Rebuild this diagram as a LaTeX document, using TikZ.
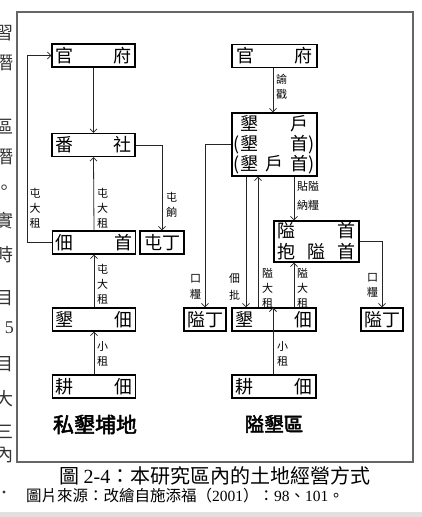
\documentclass[tikz,border=0pt]{standalone}
\usepackage{fontspec}
\setmainfont{Noto Sans CJK TC}
\newfontfamily\tnr{Liberation Serif}
\newfontfamily\cjkbold[FakeBold=2.5]{Noto Sans CJK TC}
\usetikzlibrary{arrows.meta}
\begin{document}
\begin{tikzpicture}[x=1pt,y=-1pt,
  box/.style={draw, line width=1.1pt, inner sep=0pt, minimum height=23pt, font=\fontsize{18}{20}\selectfont},
  wbox/.style={box, minimum width=83pt, text width=77pt},
  conn/.style={line width=0.8pt, draw=black!85},
  arr/.style={conn, -{Straight Barb[length=3.5pt,width=7pt]}},
  lab/.style={font=\fontsize{11}{15}\selectfont, align=center, inner sep=0pt, anchor=west},
  margin/.style={anchor=east, inner sep=0pt, font=\fontsize{18}{18}\selectfont, text=black!80}]
\useasboundingbox (0,0) rectangle (422,517);
% page fragments on the left
\begin{scope}
\clip (0,0) rectangle (15.5,517);
\foreach \ch/\yy in {習/33,潛/63,區/127,潛/157,。/190,實/221,時/255,目/298,{\tnr 5}/328,目/364,大/399,三/432,內/455,．/495}
  \node[margin] (m\yy) at (14,\yy) {\ch};
\end{scope}
% frame and bottom band
\draw[line width=1.3pt, draw=black!60] (17,12) rectangle (413,462);
\fill[black!12] (0,512) rectangle (422,517);
% left column
\node[wbox] (LG) at (93.5,55.5) {官\hfill 府};
\node[wbox] (LF) at (93.5,145) {番\hfill 社};
\node[wbox] (LH) at (94,242.5) {佃\hfill 首};
\node[box, minimum width=44pt] (LT) at (162,242.5) {屯丁};
\node[wbox] (LK) at (94,319.5) {墾\hfill 佃};
\node[wbox] (LC) at (94,386.5) {耕\hfill 佃};
\node[font={\cjkbold\fontsize{21}{21}\selectfont}, inner sep=0pt] (T1) at (95,424.5) {私墾埔地};
% right column
\node[wbox, minimum width=85pt] (RG) at (274.5,56) {官\hfill 府};
\node[box, minimum width=85pt, minimum height=63pt, align=center] (RH) at (274.5,144.5)
  {\hbox to 69pt{墾\hfill 戶}\\\hbox to 69pt{\llap{(}墾\hfill 首\rlap{)}}\\\hbox to 69pt{\llap{(}墾\hfill 戶\hfill 首\rlap{)}}};
\node[box, minimum width=85pt, minimum height=41pt, align=center, font=\fontsize{18}{21}\selectfont] (RA) at (316.5,241.5)
  {\hbox to 78pt{隘\hfill 首}\\\hbox to 78pt{抱\hfill 隘\hfill 首}};
\node[box, minimum width=42pt] (RL) at (205,319.5) {隘丁};
\node[wbox, minimum width=84pt] (RK) at (274,319.5) {墾\hfill 佃};
\node[box, minimum width=42pt] (RR) at (382,319.5) {隘丁};
\node[wbox, minimum width=84pt] (RC) at (274,386.5) {耕\hfill 佃};
\node[font={\cjkbold\fontsize{19.5}{20}\selectfont}, inner sep=0pt] (T2) at (274,424) {隘墾區};
% left connectors
\draw[arr] (LG.south) -- (LF.north);
\draw[arr] (LH.north) -- (LF.south);
\draw[arr] (LK.north) -- (LH.south);
\draw[arr] (LC.north) -- (LK.south);
\draw[arr] (LH.west) -- ++(-25,0) |- (LG.west);
\draw[arr] (LF.east) -| (LT.north);
\node[lab] (l1) at (29.5,208) {屯\\大\\租};
\node[lab] (l2) at (97,208) {屯\\大\\租};
\node[lab] (l3) at (166,205) {屯\\餉};
\node[lab] (l4) at (97,284) {屯\\大\\租};
\node[lab] (l5) at (97,354) {小\\租};
% right connectors
\draw[arr] ([xshift=-1.5pt]RG.south) -- ([xshift=-1.5pt]RH.north);
\draw[arr] (RH.west) -| (RL.north);
\draw[arr] ([xshift=-28.5pt]RH.south) -- ([xshift=-28pt]RK.north);
\draw[arr] ([xshift=-16pt]RK.north) -- ([xshift=-16.5pt]RH.south);
\draw[arr] ([xshift=19.5pt]RH.south) -- ([xshift=19.5pt]RH.south |- RA.north);
\draw[arr] ([xshift=20pt]RK.north) -- ([xshift=20pt]RK.north |- RA.south);
\draw[arr] (RA.east) -| (RR.north);
\draw[arr] ([xshift=-1pt]RC.north) -- ([xshift=-1pt]RK.north);
\node[lab] (r1) at (276,87) {諭\\戳};
\node[lab, font=\fontsize{11}{16}\selectfont] (r2) at (190,287) {口\\糧};
\node[lab, font=\fontsize{11}{17}\selectfont] (r3) at (229,287) {佃\\批};
\node[lab] (r4) at (262,288) {隘\\大\\租};
\node[lab, font=\fontsize{11}{19}\selectfont] (r5) at (297,196) {貼隘\\納糧};
\node[lab] (r6) at (297,288) {隘\\大\\租};
\node[lab] (r7) at (367,285) {口\\糧};
\node[lab] (r8) at (277,354) {小\\租};
% captions
\node[anchor=west, inner sep=0pt, font=\fontsize{20}{20}\selectfont] (cap) at (59,476) {圖 {\tnr 2-4}：本研究區內的土地經營方式};
\node[anchor=west, inner sep=0pt, font=\fontsize{15.5}{15.5}\selectfont] (src) at (26,495.5) {圖片來源：改繪自施添福（{\tnr 2001}）：{\tnr 98}、{\tnr 101}。};
\end{tikzpicture}
\end{document}
